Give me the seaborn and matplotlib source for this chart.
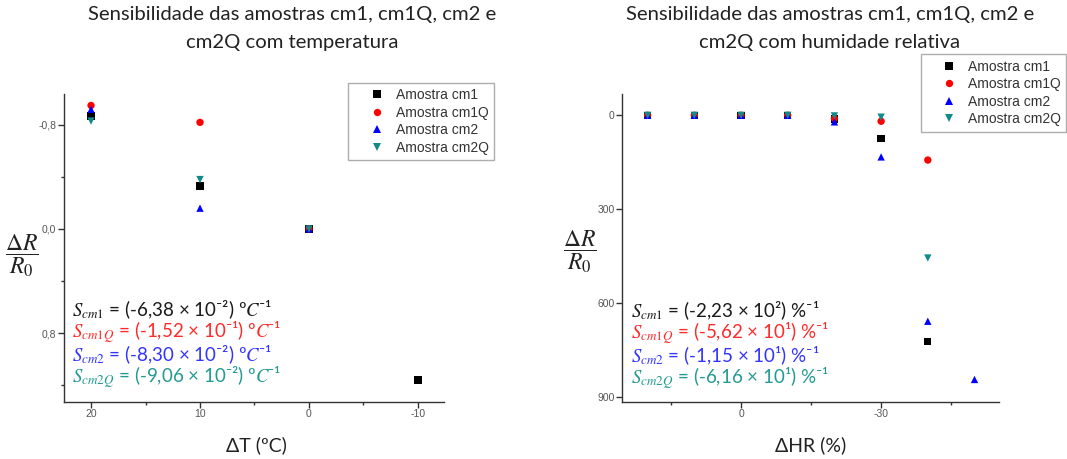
import numpy as np
import pandas as pd
import matplotlib
matplotlib.use("Agg")
import matplotlib.pyplot as plt
import seaborn as sns
from matplotlib.ticker import MultipleLocator, FixedLocator, FuncFormatter

# ---------------- data ----------------
series_names = ["Amostra cm1", "Amostra cm1Q", "Amostra cm2", "Amostra cm2Q"]

temp_x = [20, 10, 0, -10]
temp_cm1 = [-0.87, -0.33, 0.0, 1.16]
temp_cm1Q = [-0.95, -0.82, 0.0, np.nan]
temp_cm2 = [-0.92, -0.16, 0.0, np.nan]
temp_cm2Q = [-0.83, -0.38, 0.0, np.nan]

hr_x = [20, 10, 0, -10, -20, -30, -40, -50]
hr_cm1 = [0, 0, 0, 0, 12, 74, 722, np.nan]
hr_cm1Q = [0, 0, 0, 0, 10, 19, 143, np.nan]
hr_cm2 = [0, 0, 0, 0, 21, 133, 658, 844]
hr_cm2Q = [0, 0, 0, 0, 2, 6, 456, np.nan]

temp_labels = [r"$S_{cm1}$ = (-6,38 × 10⁻²) º$C$⁻¹",
               r"$S_{cm1Q}$ = (-1,52 × 10⁻¹) º$C$⁻¹",
               r"$S_{cm2}$ = (-8,30 × 10⁻²) º$C$⁻¹",
               r"$S_{cm2Q}$ = (-9,06 × 10⁻²) º$C$⁻¹"]
hr_labels = [r"$S_{cm1}$ = (-2,23 × 10²) %⁻¹",
             r"$S_{cm1Q}$ = (-5,62 × 10¹) %⁻¹",
             r"$S_{cm2}$ = (-1,15 × 10¹) %⁻¹",
             r"$S_{cm2Q}$ = (-6,16 × 10¹) %⁻¹"]

title_temp = "Sensibilidade das amostras cm1, cm1Q, cm2 e\ncm2Q com temperatura"
title_hr = "Sensibilidade das amostras cm1, cm1Q, cm2 e\ncm2Q com humidade relativa"

marker_colors = ["#000000", "#ff0000", "#0000ff", "#138a8a"]
text_colors = ["#1a1a1a", "#ff2a2a", "#3333ff", "#229a92"]
markers = ["s", "o", "^", "v"]

# ---------------- style ----------------
sns.set_theme(style="ticks")
plt.rcParams["font.family"] = ["Liberation Sans", "DejaVu Sans"]
plt.rcParams["mathtext.fontset"] = "stix"

W, H = 1067, 459
fig = plt.figure(figsize=(W / 100, H / 100), dpi=100)


def fx(px):
    return px / W


def fy(py):
    return 1 - py / H


def build_df(x, ys):
    frames = []
    for name, y in zip(series_names, ys):
        frames.append(pd.DataFrame({"x": x, "y": y, "serie": name}))
    return pd.concat(frames, ignore_index=True).dropna()


def style_axes(ax):
    for s in ["top", "right"]:
        ax.spines[s].set_visible(False)
    for s in ["left", "bottom"]:
        ax.spines[s].set_color("#333333")
        ax.spines[s].set_linewidth(1.0)
    ax.tick_params(which="major", length=4, width=1, color="#333333",
                   labelsize=7.5, labelcolor="#555555", pad=1.5)
    ax.tick_params(which="minor", length=2.5, width=1, color="#333333")
    ax.set_xlabel("")
    ax.set_ylabel("")


palette = dict(zip(series_names, marker_colors))
mk = dict(zip(series_names, markers))

# ---------------- left: temperature ----------------
ax1 = fig.add_axes([fx(64), fy(401.7), fx(444 - 64), (401.7 - 94) / H])
df1 = build_df(temp_x, [temp_cm1, temp_cm1Q, temp_cm2, temp_cm2Q])
sns.scatterplot(data=df1, x="x", y="y", hue="serie", style="serie",
                palette=palette, markers=mk, s=28, linewidth=0, ax=ax1,
                hue_order=series_names, style_order=series_names)
ax1.set_xlim(22.48, -12.39)
ax1.set_ylim(1.328, -1.038)
ax1.xaxis.set_major_locator(FixedLocator([20, 10, 0, -10]))
ax1.xaxis.set_minor_locator(FixedLocator([15, 5, -5]))
ax1.yaxis.set_major_locator(FixedLocator([-0.8, 0.0, 0.8]))
ax1.yaxis.set_minor_locator(FixedLocator([-0.4, 0.4, 1.2]))
ax1.yaxis.set_major_formatter(FuncFormatter(lambda v, p: f"{v:.1f}".replace(".", ",").replace("-0,0", "0,0")))
ax1.xaxis.set_major_formatter(FuncFormatter(lambda v, p: f"{v:.0f}"))
style_axes(ax1)

# ---------------- right: relative humidity ----------------
ax2 = fig.add_axes([fx(622.4), fy(401.7), fx(998.8 - 622.4), (401.7 - 93.7) / H])
df2 = build_df(hr_x, [hr_cm1, hr_cm1Q, hr_cm2, hr_cm2Q])
sns.scatterplot(data=df2, x="x", y="y", hue="serie", style="serie",
                palette=palette, markers=mk, s=28, linewidth=0, ax=ax2,
                hue_order=series_names, style_order=series_names)
ax2.set_xlim(25.4, -55.2)
ax2.set_ylim(915, -69)
ax2.xaxis.set_major_locator(MultipleLocator(30))
ax2.xaxis.set_minor_locator(FixedLocator([15, -15, -45]))
ax2.yaxis.set_major_locator(MultipleLocator(300))
ax2.xaxis.set_major_formatter(FuncFormatter(lambda v, p: f"{v:.0f}"))
ax2.yaxis.set_major_formatter(FuncFormatter(lambda v, p: f"{v:.0f}"))
style_axes(ax2)

# ---------------- legends ----------------
leg_kws = dict(title=None, frameon=True, fontsize=10, labelspacing=0.25,
               borderpad=0.4, handlelength=3.3, handletextpad=-0.3,
               borderaxespad=0, fancybox=False, edgecolor="#999999",
               markerscale=1.0, bbox_transform=fig.transFigure)
sns.move_legend(ax1, "upper left", bbox_to_anchor=(fx(348.3), fy(82.7)), **leg_kws)
sns.move_legend(ax2, "upper left", bbox_to_anchor=(fx(920.7), fy(54)), **leg_kws)
for ax in (ax1, ax2):
    leg = ax.get_legend()
    leg.get_frame().set_linewidth(1.0)
    for t in leg.get_texts():
        t.set_color("#333333")

# ---------------- titles and labels ----------------
tfont = ["Lato", "DejaVu Sans"]
fig.text(fx(292), fy(6), title_temp, ha="center", va="top", fontsize=14.6,
         family=tfont, color="#222222", linespacing=1.8)
fig.text(fx(830), fy(6), title_hr, ha="center", va="top", fontsize=14.6,
         family=tfont, color="#222222", linespacing=1.8)

fig.text(fx(256), fy(445), "ΔT (ºC)", ha="center", va="center", fontsize=14,
         family=tfont, color="#222222")
fig.text(fx(811), fy(445), "ΔHR (%)", ha="center", va="center", fontsize=14,
         family=tfont, color="#222222")

ylab = r"$\dfrac{\Delta R}{R_0}$"
fig.text(fx(22), fy(256), ylab, ha="center", va="center", fontsize=17, color="#222222")
fig.text(fx(580), fy(252), ylab, ha="center", va="center", fontsize=17, color="#222222")

# ---------------- sensitivity annotations ----------------
temp_y = [310, 332.5, 355, 377.5]
hr_y = [311, 333.5, 356, 378.5]
for lab, yy, c in zip(temp_labels, temp_y, text_colors):
    fig.text(fx(72), fy(yy), lab, ha="left", va="center", fontsize=13.5,
             family=tfont, color=c)
for lab, yy, c in zip(hr_labels, hr_y, text_colors):
    fig.text(fx(631), fy(yy), lab, ha="left", va="center", fontsize=13.5,
             family=tfont, color=c)

fig.savefig("out.png", dpi=100)
